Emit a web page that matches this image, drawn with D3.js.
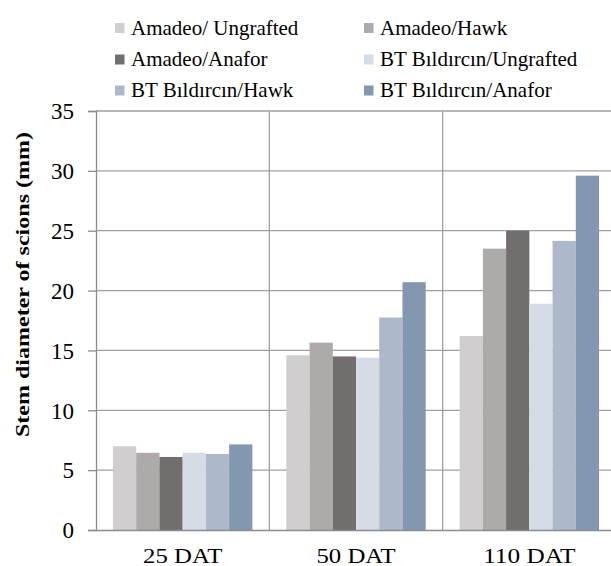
<!DOCTYPE html>
<html><head><meta charset="utf-8">
<script src="https://cdn.jsdelivr.net/npm/d3@7"></script>
<style>body{margin:0;background:#fff}svg{display:block}</style>
</head><body><svg id="c" width="611" height="566"></svg>
<script>
const categories = ["25 DAT", "50 DAT", "110 DAT"];
const seriesNames = ["Amadeo/ Ungrafted", "Amadeo/Hawk", "Amadeo/Anafor", "BT Bıldırcın/Ungrafted", "BT Bıldırcın/Hawk", "BT Bıldırcın/Anafor"];
const amadeoUngrafted = [7.0, 14.6, 16.2];
const amadeoHawk = [6.45, 15.65, 23.5];
const amadeoAnafor = [6.1, 14.5, 25.0];
const btUngrafted = [6.45, 14.4, 18.9];
const btHawk = [6.35, 17.75, 24.15];
const btAnafor = [7.15, 20.7, 29.6];
const seriesValues = [amadeoUngrafted, amadeoHawk, amadeoAnafor, btUngrafted, btHawk, btAnafor];
const colors = ["#D0CECF", "#ADAAA9", "#726E6D", "#D5DCE6", "#ADB8CA", "#8397B0"];
const yTicks = [0, 5, 10, 15, 20, 25, 30, 35];

const FONT = "'Liberation Serif', 'Times New Roman', serif";
const svg = d3.select("#c");
const L = 96, R = 616, T = 111, B = 530;
const x0 = d3.scaleBand().domain(categories).range([L, R]).paddingInner(0).paddingOuter(0);
const x1 = d3.scaleBand().domain(seriesNames).range([0, x0.bandwidth()]).paddingInner(0).paddingOuter(0.73);
const y = d3.scaleLinear().domain([0, 35]).range([B, T]);

const g = svg.append("g");
g.selectAll(".hg").data(yTicks.filter(d => d > 0)).join("line")
  .attr("x1", L).attr("x2", R).attr("y1", d => y(d)).attr("y2", d => y(d))
  .attr("stroke", "#A0A0A0").attr("stroke-width", 1.3);
g.selectAll(".vg").data(categories).join("line")
  .attr("x1", d => x0(d) + x0.bandwidth()).attr("x2", d => x0(d) + x0.bandwidth())
  .attr("y1", T).attr("y2", B).attr("stroke", "#A0A0A0").attr("stroke-width", 1.3);

categories.forEach((c, ci) => {
  seriesNames.forEach((s, si) => {
    const v = seriesValues[si][ci];
    g.append("rect").attr("x", x0(c) + x1(s)).attr("width", x1.bandwidth())
      .attr("y", y(v)).attr("height", B - y(v)).attr("fill", colors[si]);
  });
});

const ya = svg.append("g").attr("transform", `translate(${L},0)`)
  .call(d3.axisLeft(y).tickValues(yTicks).tickSize(8).tickPadding(14));
ya.attr("font-family", FONT);
ya.select(".domain").attr("stroke", "#8C8C8C").attr("stroke-width", 1.3);
ya.selectAll(".tick line").attr("stroke", "#8C8C8C").attr("stroke-width", 1.3);
ya.selectAll(".tick text").attr("font-size", 23).attr("fill", "#000").attr("dy", "0.34em");

const xa = svg.append("g").attr("transform", `translate(0,${B})`)
  .call(d3.axisBottom(x0).tickSize(0).tickPadding(0));
xa.attr("font-family", FONT);
xa.select(".domain").attr("stroke", "#8C8C8C").attr("stroke-width", 1.3);
xa.selectAll(".tick text").attr("font-size", 20).attr("fill", "#000")
  .attr("dy", null).attr("y", 33)
  .attr("textLength", d => d.length * 13.2).attr("lengthAdjust", "spacingAndGlyphs");

svg.append("text").attr("transform", `translate(29,${(T + B) / 2 - 36}) rotate(-90)`)
  .attr("text-anchor", "middle").attr("font-size", 19).attr("font-weight", "bold")
  .attr("font-family", FONT)
  .attr("textLength", 305).attr("lengthAdjust", "spacingAndGlyphs")
  .text("Stem diameter of scions (mm)");

const legX = [115, 364], legY = [28, 59.5, 90.5];
seriesNames.forEach((s, i) => {
  const lx = legX[i % 2], ly = legY[Math.floor(i / 2)];
  svg.append("rect").attr("x", lx).attr("y", ly - 5).attr("width", 9.5).attr("height", 10).attr("fill", colors[i]);
  svg.append("text").attr("x", lx + 16).attr("y", ly + 6.5).attr("font-size", 21)
    .attr("font-family", FONT).text(s);
});
</script></body></html>
